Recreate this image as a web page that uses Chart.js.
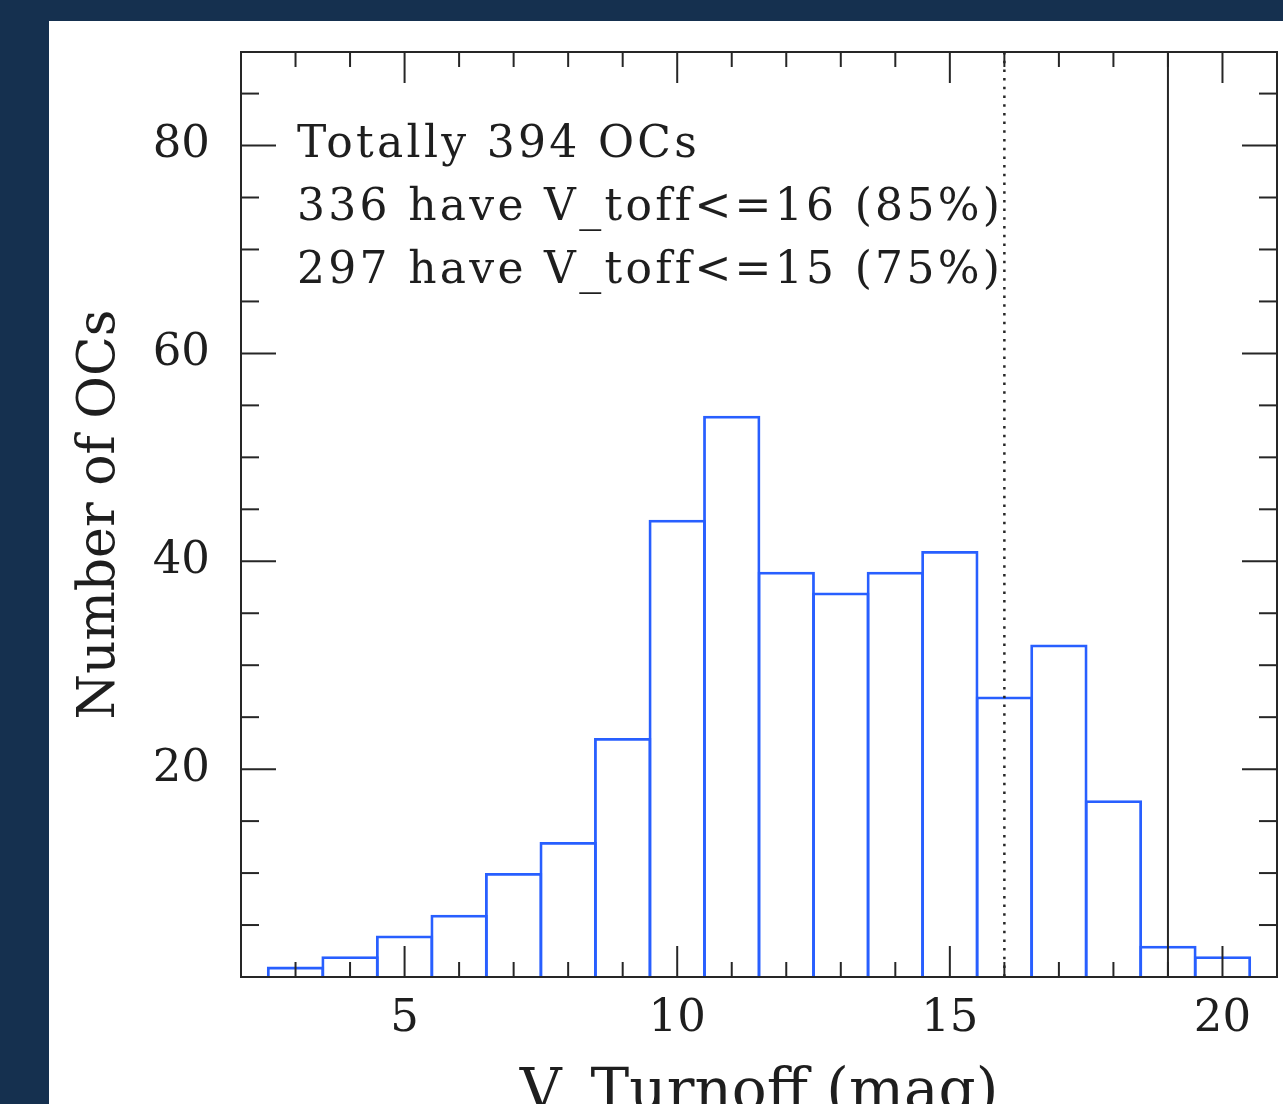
<!DOCTYPE html>
<html>
<head>
<meta charset="utf-8">
<title>V_Turnoff histogram</title>
<script src="https://cdn.jsdelivr.net/npm/chart.js@4.4.1/dist/chart.umd.min.js"></script>
<style>
  html, body { margin: 0; padding: 0; background: #15304f; overflow: hidden; }
</style>
</head>
<body>
<canvas id="myChart" width="1283" height="1140"></canvas>
<script>
// histogram: bin centres (1 mag wide) and number of clusters per bin
var binCenters = [3, 4, 5, 6, 7, 8, 9, 10, 11, 12, 13, 14, 15, 16, 17, 18, 19, 20];
var counts = [1, 2, 4, 6, 10, 13, 23, 44, 54, 39, 37, 39, 41, 27, 32, 17, 3, 2];
var xTickLabels = [5, 10, 15, 20];
var yTickLabels = [20, 40, 60, 80];
var cutLines = [16, 19]; // first one dotted, second one solid
var notes = [
  "Totally 394 OCs",
  "336 have V_toff<=16 (85%)",
  "297 have V_toff<=15 (75%)"
];

var ink = "#262626";
var serif = '"DejaVu Serif", serif';

function line(ctx, x1, y1, x2, y2) {
  ctx.beginPath();
  ctx.moveTo(x1, y1);
  ctx.lineTo(x2, y2);
  ctx.stroke();
}

var framePlugin = {
  id: "frame",
  beforeDraw: function (chart) {
    var ctx = chart.ctx;
    ctx.save();
    ctx.fillStyle = "#15304f";
    ctx.fillRect(0, 0, chart.width, chart.height);
    ctx.fillStyle = "#ffffff";
    ctx.fillRect(49, 21, chart.width - 49, chart.height - 21);
    ctx.restore();
  },
  afterDraw: function (chart) {
    var ctx = chart.ctx;
    var a = chart.chartArea;
    var xs = chart.scales.x;
    var ys = chart.scales.y;
    ctx.save();
    ctx.strokeStyle = ink;
    ctx.lineWidth = 2;

    // V_toff cut lines
    cutLines.forEach(function (v, i) {
      var px = xs.getPixelForValue(v);
      ctx.lineWidth = i === 0 ? 2.5 : 2;
      ctx.setLineDash(i === 0 ? [2.5, 6.2] : []);
      line(ctx, px, a.top, px, a.bottom);
    });
    ctx.setLineDash([]);
    ctx.lineWidth = 2;

    // inward ticks on all four sides
    for (var v = xs.min + 1; v < xs.max; v++) {
      var px = xs.getPixelForValue(v);
      var len = v % 5 === 0 ? 31 : 15;
      line(ctx, px, a.bottom, px, a.bottom - len);
      line(ctx, px, a.top, px, a.top + len);
    }
    for (var w = 5; w < ys.max; w += 5) {
      var py = ys.getPixelForValue(w);
      var len2 = w % 20 === 0 ? 35 : 18;
      line(ctx, a.left, py, a.left + len2, py);
      line(ctx, a.right, py, a.right - len2, py);
    }
    ctx.strokeRect(a.left, a.top, a.right - a.left, a.bottom - a.top);

    // text block in the upper left
    ctx.fillStyle = "#1e1e1e";
    ctx.font = "44px " + serif;
    ctx.letterSpacing = "3.3px";
    ctx.textBaseline = "alphabetic";
    notes.forEach(function (t, i) {
      ctx.fillText(t, a.left + 56, a.top + 105 + i * 63);
    });
    ctx.restore();
  }
};

new Chart("myChart", {
  type: "bar",
  data: {
    datasets: [
      {
        data: binCenters.map(function (c, i) { return { x: c, y: counts[i] }; }),
        backgroundColor: "rgba(0,0,0,0)",
        borderColor: "rgb(40, 95, 255)",
        borderWidth: 2.8,
        borderSkipped: "bottom",
        categoryPercentage: 1,
        barPercentage: 1.051
      }
    ]
  },
  options: {
    responsive: false,
    animation: false,
    layout: { padding: { top: 52, right: 6, left: 0, bottom: 0 } },
    plugins: { legend: { display: false }, tooltip: { enabled: false } },
    scales: {
      x: {
        type: "linear",
        min: 2,
        max: 21,
        offset: false,
        grid: { display: false, drawTicks: false },
        border: { display: false },
        afterBuildTicks: function (s) { s.ticks = xTickLabels.map(function (v) { return { value: v }; }); },
        afterFit: function (s) { s.height = 163; s.paddingLeft = 0; s.paddingRight = 0; },
        ticks: { color: "#1e1e1e", font: { family: serif, size: 45 }, padding: 15, maxRotation: 0 },
        title: { display: true, text: "V_Turnoff (mag)", color: "#1e1e1e", font: { family: serif, size: 58 }, padding: { top: 0, bottom: 11 } }
      },
      y: {
        min: 0,
        max: 89,
        grid: { display: false, drawTicks: false },
        border: { display: false },
        afterBuildTicks: function (s) { s.ticks = yTickLabels.map(function (v) { return { value: v }; }); },
        afterFit: function (s) { s.width = 241; s.paddingTop = 0; s.paddingBottom = 0; },
        ticks: { color: "#1e1e1e", font: { family: serif, size: 45 }, padding: 31 },
        title: { display: true, text: "Number of OCs", color: "#1e1e1e", font: { family: serif, size: 52 }, padding: { top: 69, bottom: 0 } }
      }
    }
  },
  plugins: [framePlugin]
});
</script>
</body>
</html>
